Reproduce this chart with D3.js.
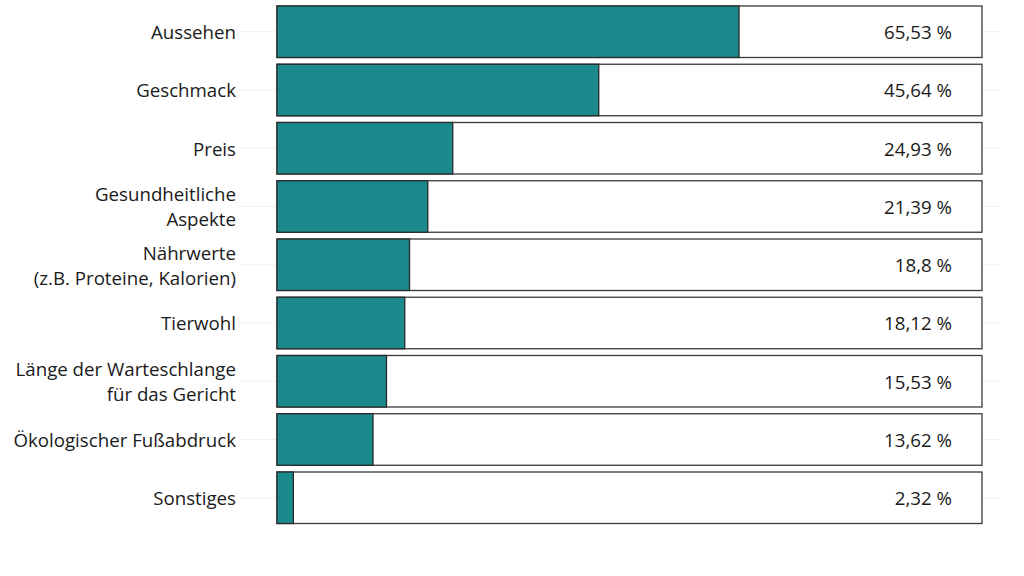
<!DOCTYPE html>
<html>
<head>
<meta charset="utf-8">
<script src="https://cdn.jsdelivr.net/npm/d3@7"></script>
<style>
  body { margin: 0; background: #fff; }
  text { font-family: "Open Sans", Lato, sans-serif; }
</style>
</head>
<body>
<div id="chart"></div>
<script>
const categories = [
    ["Aussehen"],
    ["Geschmack"],
    ["Preis"],
    ["Gesundheitliche", "Aspekte"],
    ["Nährwerte", "(z.B. Proteine, Kalorien)"],
    ["Tierwohl"],
    ["Länge der Warteschlange", "für das Gericht"],
    ["Ökologischer Fußabdruck"],
    ["Sonstiges"]
];
const values = [65.53, 45.64, 24.93, 21.39, 18.8, 18.12, 15.53, 13.62, 2.32];
const valueLabels = ["65,53 %", "45,64 %", "24,93 %", "21,39 %", "18,8 %", "18,12 %", "15,53 %", "13,62 %", "2,32 %"];

const width = 1024;
const height = 576;

const svg = d3.select("#chart")
    .append("svg")
    .attr("width", width)
    .attr("height", height);

const x = d3.scaleLinear()
    .domain([0, 100])
    .range([277, 982]);

const y = d3.scaleBand()
    .domain(d3.range(categories.length))
    .range([6, 523.5])
    .paddingInner(0.116)
    .paddingOuter(0);

// faint gridlines through row centres
svg.selectAll("line.grid")
    .data(categories)
    .enter().append("line")
    .attr("class", "grid")
    .attr("x1", 240)
    .attr("x2", 1000)
    .attr("y1", (d, i) => y(i) + y.bandwidth() / 2)
    .attr("y2", (d, i) => y(i) + y.bandwidth() / 2)
    .attr("stroke", "#f0f0f0")
    .attr("stroke-width", 1);

// background boxes (100%)
svg.selectAll("rect.bg")
    .data(values)
    .enter().append("rect")
    .attr("class", "bg")
    .attr("x", x(0))
    .attr("y", (d, i) => y(i))
    .attr("width", x(100) - x(0))
    .attr("height", y.bandwidth())
    .attr("fill", "#fff")
    .attr("stroke", "#3a3a3a")
    .attr("stroke-width", 1.3);

svg.selectAll("rect.bar")
    .data(values)
    .enter().append("rect")
    .attr("class", "bar")
    .attr("x", x(0))
    .attr("y", (d, i) => y(i))
    .attr("width", d => x(d) - x(0))
    .attr("height", y.bandwidth())
    .attr("fill", "#1b8a8c")
    .attr("stroke", "#2a2a2a")
    .attr("stroke-width", 1.3);

// category labels
const labels = svg.selectAll("text.cat")
    .data(categories)
    .enter().append("text")
    .attr("class", "cat")
    .attr("text-anchor", "end")
    .style("font-size", "18.7px")
    .attr("fill", "#1a1a1a")
    .attr("transform", (d, i) => `translate(236, ${y(i) + y.bandwidth() / 2})`);

labels.each(function (lines) {
    const t = d3.select(this);
    const lh = 25;
    lines.forEach((line, j) => {
        t.append("tspan")
            .attr("x", 0)
            .attr("y", (j - (lines.length - 1) / 2) * lh)
            .attr("dy", "0.4em")
            .text(line);
    });
});

// value labels
svg.selectAll("text.val")
    .data(valueLabels)
    .enter().append("text")
    .attr("class", "val")
    .attr("x", 952)
    .attr("y", (d, i) => y(i) + y.bandwidth() / 2)
    .attr("dy", "0.4em")
    .attr("text-anchor", "end")
    .style("font-size", "18.7px")
    .attr("fill", "#1a1a1a")
    .text(d => d);
</script>
</body>
</html>
